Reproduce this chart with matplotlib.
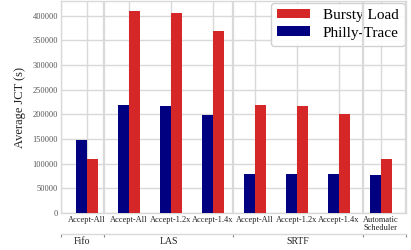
import numpy as np
import matplotlib
matplotlib.use("Agg")
import matplotlib.pyplot as plt

categories = ["Accept-All", "Accept-All", "Accept-1.2x", "Accept-1.4x",
              "Accept-All", "Accept-1.2x", "Accept-1.4x", "Automatic\nScheduler"]
philly = [149000, 220000, 218000, 198000, 80000, 79000, 79000, 77000]
bursty = [109000, 410000, 406000, 369000, 220000, 218000, 200000, 109000]
groups = ["Fifo", "LAS", "SRTF", ""]
group_edges = [0.0, 0.125, 0.5, 0.875, 1.0]

plt.rcParams["font.family"] = ["Liberation Serif", "DejaVu Serif"]
grid_c = "#d9d9d9"

fig = plt.figure(figsize=(4.11, 2.5), dpi=100)
ax = fig.add_axes([0.148, 0.148, 0.84, 0.848])

x = np.arange(len(categories))
w = 0.26
ax.bar(x - w / 2, philly, w, color="#000080", label="Philly-Trace", zorder=3)
ax.bar(x + w / 2, bursty, w, color="#d62728", label="Bursty Load", zorder=3)

ax.set_xlim(-0.62, 7.6)
ax.set_ylim(0, 430000)
ax.set_yticks(np.arange(0, 400001, 50000))
ax.set_xticks(x)
ax.set_xticklabels(categories, fontsize=6, linespacing=1.0)
ax.tick_params(axis="both", length=0, labelsize=6, colors="#555555", pad=2)
ax.tick_params(axis="x", colors="#222222")
ax.grid(True, color=grid_c, linewidth=1.0, zorder=0)
ax.set_axisbelow(True)
for s in ax.spines.values():
    s.set_color(grid_c)
    s.set_linewidth(1.0)
ax.set_ylabel("Average JCT (s)", fontsize=9, color="#222222", labelpad=5)

# group axis below the category labels
ax2 = ax.twiny()
ax2.set_xlim(0, 1)
ax2.spines["bottom"].set_position(("outward", 15))
ax2.xaxis.set_ticks_position("bottom")
ax2.xaxis.set_label_position("bottom")
ax2.set_xticks(group_edges)
ax2.set_xticklabels([])
centers = [(a + b) / 2 for a, b in zip(group_edges[:-1], group_edges[1:])]
ax2.set_xticks(centers, minor=True)
ax2.set_xticklabels(groups, minor=True, fontsize=7, color="#222222")
ax2.tick_params(axis="x", which="major", length=2, width=0.8, color="#888888")
ax2.tick_params(axis="x", which="minor", length=0, pad=2)
ax2.grid(True, axis="x", which="major", color=grid_c, linewidth=1.6, zorder=0)
for k, s in ax2.spines.items():
    s.set_visible(k == "bottom")
ax2.spines["bottom"].set_color(grid_c)
ax2.spines["bottom"].set_linewidth(1.0)
ax2.set_axisbelow(True)

h, l = ax.get_legend_handles_labels()
leg = ax.legend(h[::-1], l[::-1], loc="upper right", fontsize=11,
                borderaxespad=0.1, handlelength=2.2, handleheight=0.6,
                labelspacing=0.3, framealpha=0.9, edgecolor="#cccccc")
leg.set_zorder(5)

fig.savefig("out.png", dpi=100)
